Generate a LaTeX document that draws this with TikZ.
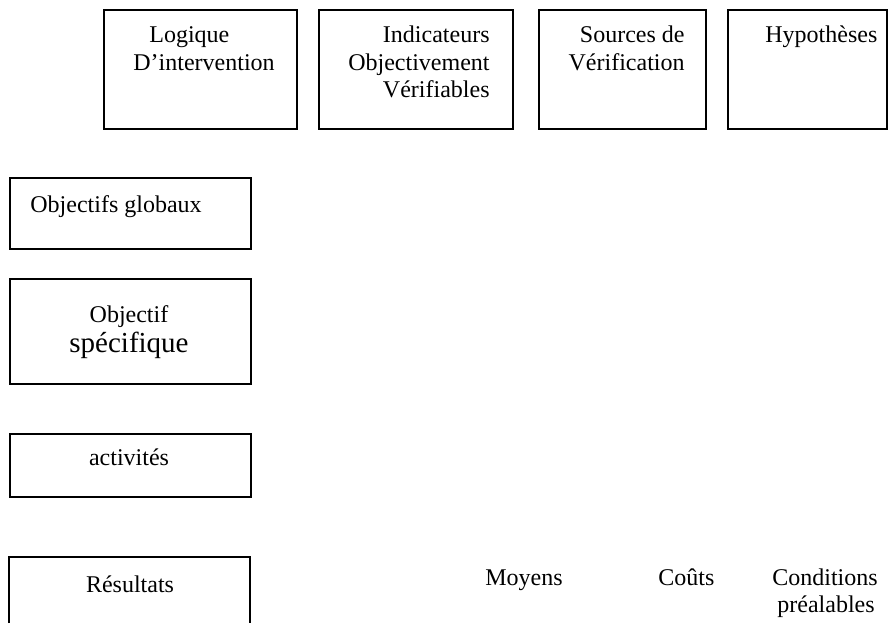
\documentclass[tikz,border=0pt]{standalone}
\usepackage{fontspec}
\setmainfont{Liberation Serif}
\begin{document}
\begin{tikzpicture}[x=0.5pt,y=-0.5pt,
  box/.style={draw=black,line width=1pt,rectangle,inner sep=0pt,anchor=north west},
  txt/.style={inner sep=0pt,font=\fontsize{12}{13.8}\selectfont},
  big/.style={inner sep=0pt,font=\fontsize{14.5}{17}\selectfont}]
\useasboundingbox (0,0) rectangle (888,623);
% top boxes
\node[box,minimum width=96.5pt,minimum height=59.5pt] (b1) at (103,9) {};
\node[box,minimum width=97pt,minimum height=59.5pt] (b2) at (318,9) {};
\node[box,minimum width=83.5pt,minimum height=59.5pt] (b3) at (538,9) {};
\node[box,minimum width=79.5pt,minimum height=59.5pt] (b4) at (727,9) {};
% left boxes
\node[box,minimum width=120.5pt,minimum height=35.5pt] (l1) at (9,177) {};
\node[box,minimum width=120.5pt,minimum height=52.5pt] (l2) at (9,278) {};
\node[box,minimum width=120.5pt,minimum height=31.5pt] (l3) at (9,433) {};
\draw[line width=1pt] (9,623) |- (250,557) -- (250,623);
% texts top
\node[txt,anchor=base west] (t1a) at (149,42) {Logique};
\node[txt,anchor=base west] (t1b) at (133,70) {D’intervention};
\node[txt,anchor=base east] (t2a) at (490,42) {Indicateurs};
\node[txt,anchor=base east] (t2b) at (490,70) {Objectivement};
\node[txt,anchor=base east] (t2c) at (490,97) {Vérifiables};
\node[txt,anchor=base east] (t3a) at (685,42) {Sources de};
\node[txt,anchor=base east] (t3b) at (685,70) {Vérification};
\node[txt,anchor=base west] (t4a) at (765,42) {Hypothèses};
% texts left
\node[txt,anchor=base west] (tl1) at (30,212) {Objectifs globaux};
\node[txt,anchor=base] (tl2a) at (129,322) {Objectif};
\node[big,anchor=base] (tl2b) at (129,352) {spécifique};
\node[txt,anchor=base] (tl3) at (129,465) {activités};
\node[txt,anchor=base] (tl4) at (130,592) {Résultats};
% bottom row
\node[txt,anchor=base west] (m) at (485,585) {Moyens};
\node[txt,anchor=base west] (c) at (658,585) {Coûts};
\node[txt,anchor=base] (ca) at (825,585) {Conditions};
\node[txt,anchor=base] (cb) at (826,612) {préalables};
\end{tikzpicture}
\end{document}
